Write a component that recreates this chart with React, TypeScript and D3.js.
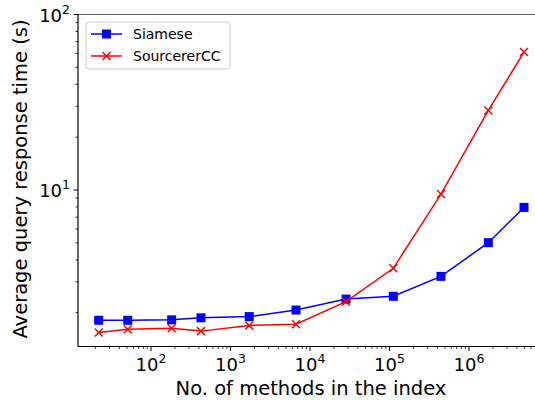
import * as d3 from "d3";
import React from "react";

// index sizes (number of methods) and query times (s)
const siameseX = [22, 51, 182, 425, 1720, 6670, 28400, 111600, 444000, 1750000, 4920000];
const siameseY = [1.81, 1.81, 1.82, 1.87, 1.9, 2.07, 2.39, 2.48, 3.22, 5.01, 7.96];
const sccX = [22, 51, 182, 425, 1720, 6670, 28400, 111600, 444000, 1750000, 4920000];
const sccY = [1.54, 1.61, 1.63, 1.57, 1.69, 1.72, 2.31, 3.58, 9.48, 28.4, 61.1];
const seriesNames = ["Siamese", "SourcererCC"];

const W = 535, H = 400;
const left = 78, top = 14.5, bottom = 346.5, right = 545;
const font = "DejaVu Sans, sans-serif";

export default function App() {
  // keep the decade width close to the reference
  const decade = 79.5;
  const x = d3.scaleLog()
    .domain([Math.pow(10, 2 - (151 - left) / decade), Math.pow(10, 2 + (right - 151) / decade)])
    .range([left, right]);
  const y = d3.scaleLog().domain([Math.pow(10, 2 - (bottom - top) / 175.5), 100]).range([bottom, top]);

  const isMajor = (v: number) => Math.abs(Math.log10(v) - Math.round(Math.log10(v))) < 1e-9;
  const xt = x.ticks().filter(v => x(v) <= W);
  const yt = y.ticks();

  const line = d3.line<[number, number]>().x(d => x(d[0])).y(d => y(d[1]));
  const sPts = siameseX.map((v, i) => [v, siameseY[i]] as [number, number]);
  const cPts = sccX.map((v, i) => [v, sccY[i]] as [number, number]);

  const cross = (cx: number, cy: number, r: number, key: string | number) => (
    <path key={key} d={`M${cx - r},${cy - r}L${cx + r},${cy + r}M${cx - r},${cy + r}L${cx + r},${cy - r}`}
      stroke="#ff0000" strokeWidth={1.5} fill="none" />
  );

  return (
    <svg width={W} height={H} style={{ position: "absolute", left: 0, top: 0, background: "#fff" }} fontFamily={font}>
      <rect width={W} height={H} fill="#fff" />
      {/* spines */}
      <line x1={left} x2={W} y1={top} y2={top} stroke="#000" strokeWidth={1} opacity={0.6} />
      <line x1={left} x2={left} y1={top} y2={bottom} stroke="#000" strokeWidth={1.2} />
      <line x1={left} x2={W} y1={bottom} y2={bottom} stroke="#000" strokeWidth={1.2} />

      {/* x ticks */}
      {xt.map((v, i) => {
        const maj = isMajor(v);
        return (
          <g key={"x" + i}>
            <line x1={x(v)} x2={x(v)} y1={bottom} y2={bottom + (maj ? 4.5 : 2.5)} stroke="#000" strokeWidth={maj ? 1 : 0.8} />
            {maj && (
              <text x={x(v)} y={bottom + 24.5} textAnchor="middle" fontSize={18}>
                10<tspan dy={-8} fontSize={12.5}>{Math.round(Math.log10(v))}</tspan>
              </text>
            )}
          </g>
        );
      })}

      {/* y ticks */}
      {yt.map((v, i) => {
        const maj = isMajor(v);
        return (
          <g key={"y" + i}>
            <line x1={left} x2={left - (maj ? 4.5 : 2.5)} y1={y(v)} y2={y(v)} stroke="#000" strokeWidth={maj ? 1 : 0.8} />
            {maj && (
              <text x={left - 8} y={y(v) + 7} textAnchor="end" fontSize={18}>
                10<tspan dy={-8} fontSize={12.5}>{Math.round(Math.log10(v))}</tspan>
              </text>
            )}
          </g>
        );
      })}

      {/* axis titles */}
      <text x={311} y={395} textAnchor="middle" fontSize={19.5}>No. of methods in the index</text>
      <text transform={`translate(26.5,179) rotate(-90)`} textAnchor="middle" fontSize={19.5}>
        Average query response time (s)
      </text>

      {/* series */}
      <path d={line(sPts) || ""} fill="none" stroke="#0000ff" strokeWidth={1.5} />
      {sPts.map((p, i) => (
        <rect key={"s" + i} x={x(p[0]) - 4.5} y={y(p[1]) - 4.5} width={9} height={9} fill="#0000ff" />
      ))}
      <path d={line(cPts) || ""} fill="none" stroke="#ff0000" strokeWidth={1.5} />
      {cPts.map((p, i) => cross(x(p[0]), y(p[1]), 4, "c" + i))}

      {/* legend */}
      <rect x={86} y={22} width={144} height={47} rx={3} fill="#fff" fillOpacity={0.8} stroke="#cccccc" />
      <line x1={91} x2={122} y1={34} y2={34} stroke="#0000ff" strokeWidth={1.5} />
      <rect x={102} y={29.5} width={9} height={9} fill="#0000ff" />
      <text x={133} y={39} fontSize={14}>{seriesNames[0]}</text>
      <line x1={91} x2={122} y1={56} y2={56} stroke="#ff0000" strokeWidth={1.5} />
      {cross(106.5, 56, 4, "lc")}
      <text x={133} y={61} fontSize={14}>{seriesNames[1]}</text>
    </svg>
  );
}
